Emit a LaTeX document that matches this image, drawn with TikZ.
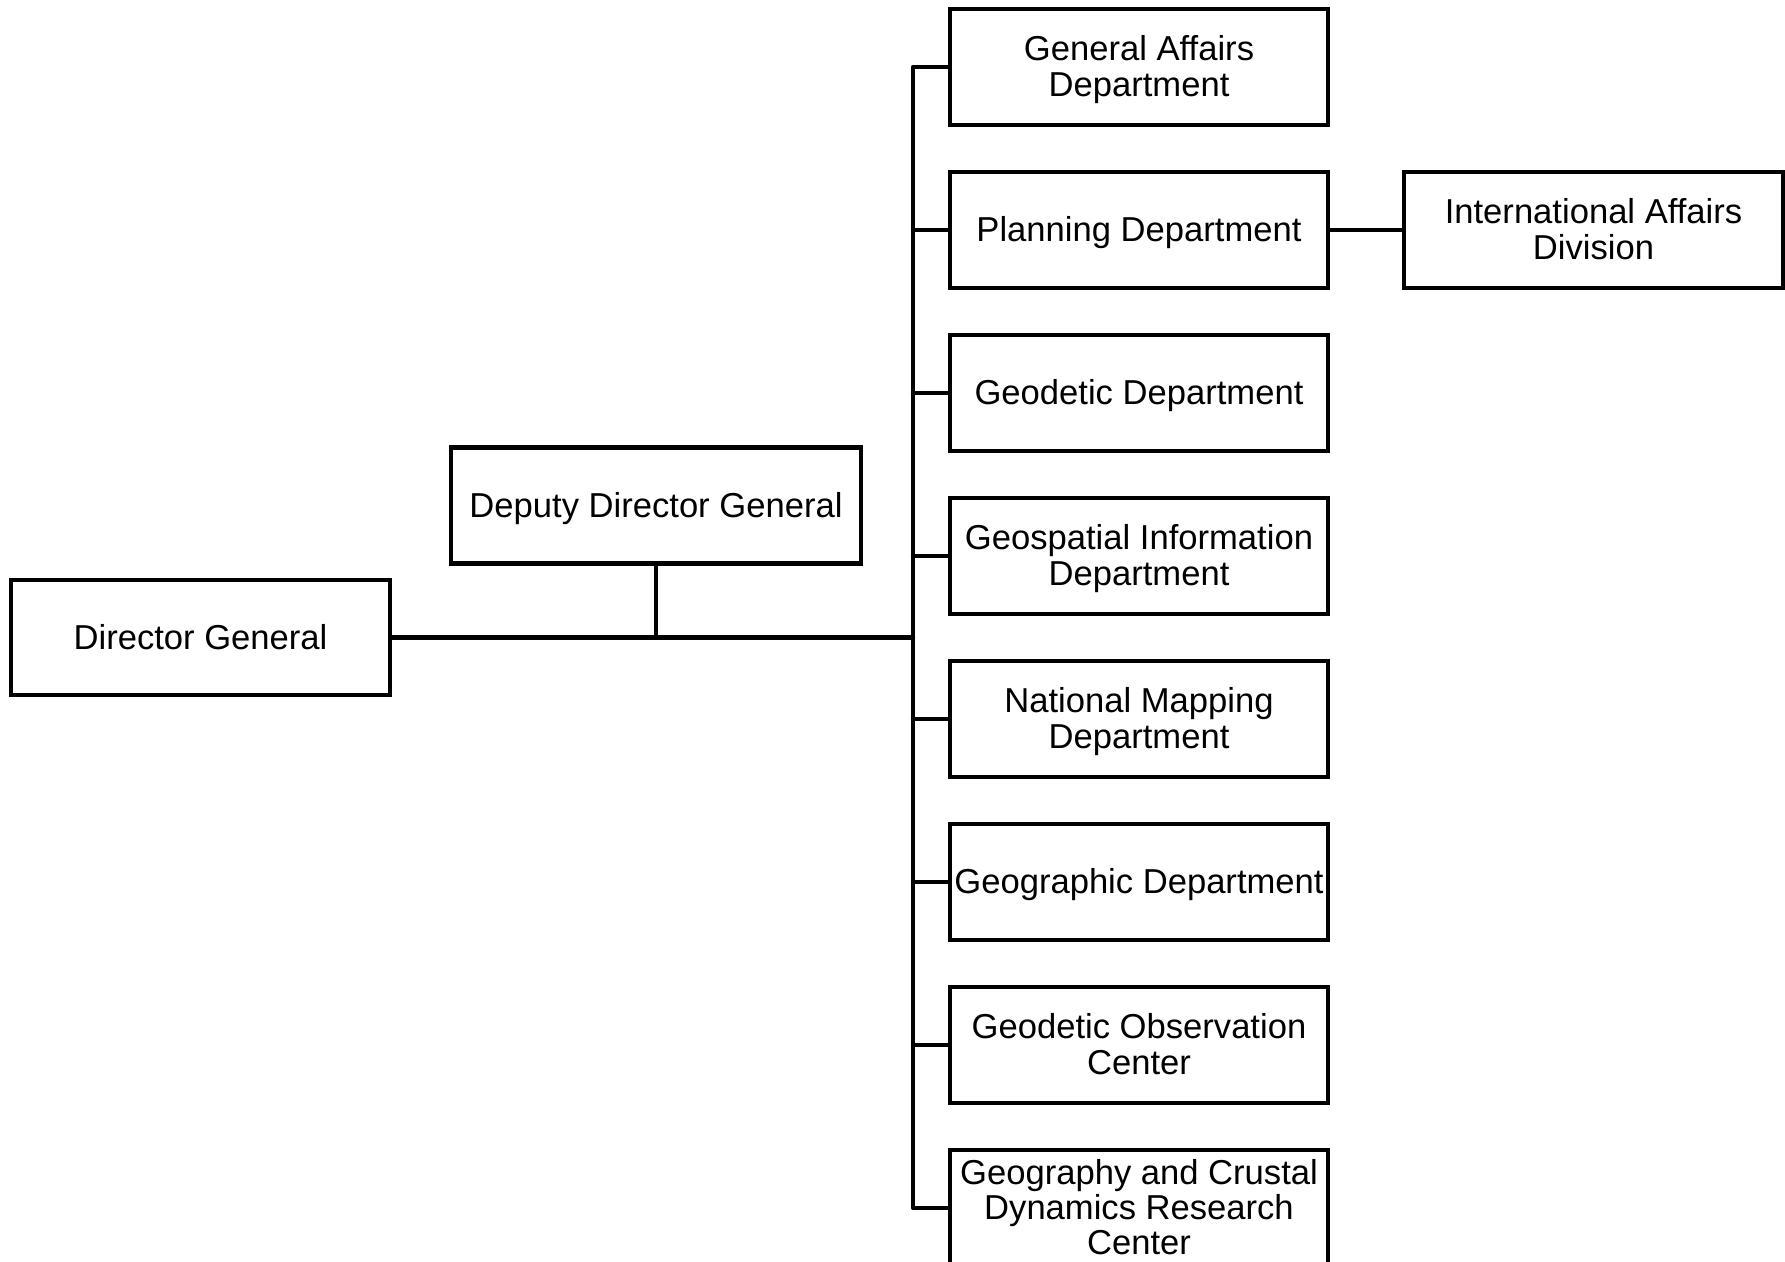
\documentclass[tikz,border=0pt]{standalone}
\usepackage{fontspec}
\setmainfont{Liberation Sans}
\begin{document}
\begin{tikzpicture}[x=0.5pt,y=-0.5pt,
  box/.style={draw=black, line width=2.2pt, inner sep=0pt, align=center,
    font=\fontsize{17.3pt}{17.6pt}\selectfont, minimum height=58pt, text depth=1pt},
  dept/.style={box, minimum width=189pt},
  link/.style={line width=2.2pt, line cap=round, line join=round}]
\useasboundingbox (0,0) rectangle (1785,1262);
\clip (0,0) rectangle (1785,1262);
\node[box, minimum width=189.5pt, minimum height=57.5pt] (dg) at (200.5,637.5) {Director General};
\node[box, minimum width=205pt] (ddg) at (656,505.5) {Deputy Director General};
\node[dept] (ga) at (1139,67) {General Affairs\\Department};
\node[dept] (pl) at (1139,230) {Planning Department};
\node[dept] (gd) at (1139,393) {Geodetic Department};
\node[dept] (gi) at (1139,556) {Geospatial Information\\Department};
\node[dept] (nm) at (1139,719) {National Mapping\\Department};
\node[dept] (gg) at (1139,882) {Geographic Department};
\node[dept] (go) at (1139,1045) {Geodetic Observation\\Center};
\node[dept] (gc) at (1139,1208) {Geography and Crustal\\Dynamics Research\\Center};
\node[box, minimum width=189.5pt] (ia) at (1593.5,230) {International Affairs\\Division};
\coordinate (tj) at (913,637.5);
\coordinate (dj) at (656,637.5);
\draw[link] (dg.east) -- (tj);
\draw[link] (ddg.south) -- (dj);
\draw[link] (ga.west) -| (tj) |- (gc.west);
\foreach \n in {pl,gd,gi,nm,gg,go}{
  \draw[link] (\n.west) -- (tj |- \n.west);
}
\draw[link] (pl.east) -- (ia.west);
\end{tikzpicture}
\end{document}
